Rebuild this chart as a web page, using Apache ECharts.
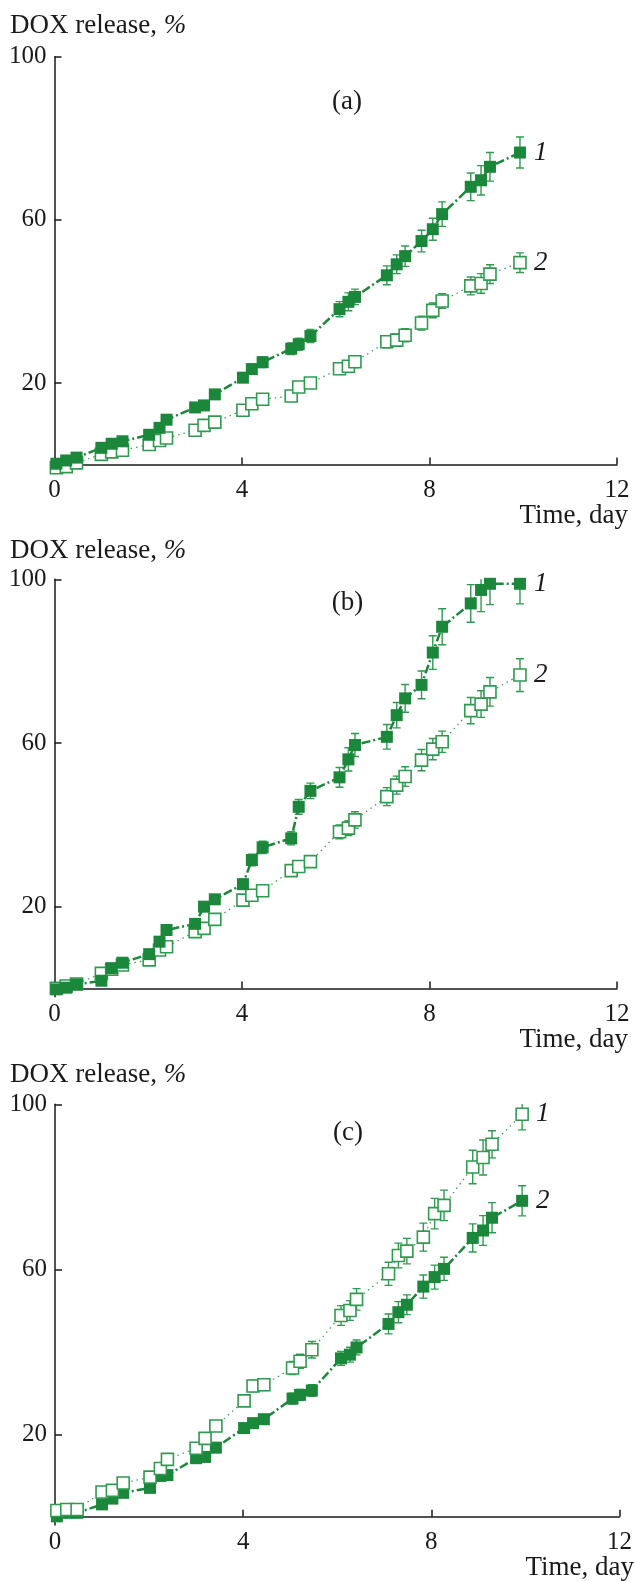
<!DOCTYPE html>
<html>
<head>
<meta charset="utf-8">
<script src="https://cdn.jsdelivr.net/npm/echarts@6/dist/echarts.min.js"></script>
<style>
  html, body { margin: 0; padding: 0; background: #fff; }
  #chart { width: 635px; height: 1581px; }
</style>
</head>
<body>
<div id="chart"></div>
<script>
// sampling times, days (same for all three panels)
var times = [0.04, 0.25, 0.47, 1.0, 1.22, 1.45, 2.02, 2.24, 2.39, 3.0, 3.19, 3.42, 4.02, 4.21, 4.44,
    5.05, 5.21, 5.46, 6.08, 6.27, 6.41, 7.09, 7.3, 7.48, 7.83, 8.07, 8.27, 8.88, 9.1, 9.29, 9.93];

// panel (a)
var a1 = [0.2, 1.0, 1.7, 4.1, 5.1, 5.7, 7.3, 9.0, 11.0, 14.0, 14.5, 17.2, 21.3, 23.4, 25.1,
    28.4, 29.5, 31.5, 38.1, 39.9, 41.1, 46.4, 49.1, 51.1, 54.8, 57.7, 61.4, 68.1, 69.7, 73.0, 76.5];
var a1Err = [0.2, 0.3, 0.3, 0.4, 0.5, 0.5, 0.5, 0.6, 0.7, 0.8, 0.8, 0.9, 1.1, 1.2, 1.3,
    1.4, 1.5, 1.6, 1.85, 2.2, 1.9, 2.3, 2.3, 2.5, 2.65, 2.7, 3.0, 3.4, 3.6, 3.5, 3.8];
var a2 = [-0.8, -0.5, 0.4, 2.5, 3.1, 3.5, 4.9, 5.9, 6.5, 8.4, 9.6, 10.4, 13.3, 14.9, 16.0,
    16.8, 19.0, 20.0, 23.5, 24.1, 25.2, 30.1, 30.5, 31.7, 34.7, 37.8, 40.1, 43.8, 44.4, 46.7, 49.5];
var a2Err = [0.2, 0.2, 0.2, 0.3, 0.3, 0.3, 0.4, 0.4, 0.5, 0.5, 0.6, 0.6, 0.8, 0.9, 0.9,
    1.0, 1.1, 1.1, 1.3, 1.3, 1.4, 1.5, 1.5, 1.6, 1.7, 1.8, 1.8, 2.2, 2.4, 2.3, 2.4];

// panel (b)
var b1 = [-0.2, 0.2, 1.0, 1.9, 4.95, 6.3, 8.4, 11.45, 14.3, 15.8, 20.0, 21.8, 25.5, 31.4, 34.5,
    36.7, 44.4, 48.3, 51.6, 56.0, 59.5, 61.5, 66.8, 70.9, 74.2, 82.1, 88.4, 94.1, 97.4, 98.9, 98.9];
var b1Err = [0.2, 0.2, 0.3, 0.3, 0.4, 0.5, 0.6, 0.7, 0.8, 0.9, 1.0, 1.1, 1.2, 1.4, 1.5,
    1.6, 1.8, 1.9, 2.4, 2.85, 2.8, 3.0, 3.1, 3.4, 3.4, 4.1, 4.4, 4.6, 5.3, 5.1, 4.9];
var b2 = [0.05, 0.6, 1.1, 3.7, 4.7, 5.75, 7.0, 9.4, 10.2, 13.9, 14.7, 16.9, 21.6, 22.8, 23.9,
    28.8, 29.8, 31.0, 38.3, 39.2, 41.2, 46.9, 49.7, 51.8, 55.8, 58.5, 60.3, 67.9, 69.5, 72.5, 76.6];
var b2Err = [0.1, 0.2, 0.2, 0.3, 0.3, 0.4, 0.4, 0.5, 0.5, 0.7, 0.7, 0.8, 1.0, 1.0, 1.1,
    1.3, 1.3, 1.4, 1.7, 1.8, 2.0, 2.2, 2.2, 2.4, 2.6, 2.6, 2.6, 3.2, 3.25, 3.5, 4.0];

// panel (c): curve 1 is the open one here
var c1 = [1.5, 1.75, 1.75, 6.0, 6.4, 8.2, 9.6, 11.7, 13.9, 16.6, 19.0, 22.0, 28.1, 31.7, 32.0,
    36.05, 37.7, 40.5, 48.8, 50.0, 52.7, 58.9, 63.35, 64.4, 67.8, 73.5, 75.5, 84.8, 87.1, 90.3, 97.6];
var c1Err = [0.2, 0.2, 0.2, 0.4, 0.4, 0.5, 0.5, 0.6, 0.7, 0.8, 0.9, 1.0, 1.3, 1.4, 1.4,
    1.6, 1.7, 2.0, 2.4, 2.4, 2.6, 2.8, 3.0, 3.1, 3.4, 3.7, 3.7, 4.05, 4.25, 3.3, 3.8];
var c2 = [0.1, 0.95, 0.95, 3.0, 4.4, 5.8, 7.0, 9.9, 10.1, 14.2, 14.5, 16.75, 21.5, 22.7, 23.65,
    28.65, 29.55, 30.6, 38.4, 39.3, 41.05, 46.75, 49.6, 51.4, 55.8, 58.1, 60.1, 67.6, 69.4, 72.5, 76.6];
var c2Err = [0.1, 0.2, 0.2, 0.3, 0.3, 0.4, 0.4, 0.5, 0.5, 0.7, 0.7, 0.8, 1.0, 1.0, 1.1,
    1.3, 1.3, 1.4, 1.7, 1.8, 1.8, 2.4, 2.55, 2.4, 2.8, 2.9, 2.8, 3.4, 3.6, 3.65, 3.65];

var xTicks = [0, 4, 8, 12];
var yTicks = [20, 60, 100];
var panelNames = ['(a)', '(b)', '(c)'];

var FONT = "'Liberation Serif', 'Times New Roman', serif";
var FILL = '#1b873b';
var OPEN = '#2f9a50';
var INK = '#1a1a1a';

var grids = [
    {left: 54.5, top: 56.7, width: 562.5, height: 416},
    {left: 54.5, top: 579.3, width: 562.5, height: 417.4},
    {left: 55, top: 1104.3, width: 565, height: 420.7}
];

function xAxis(idx) {
    return {
        type: 'value', gridIndex: idx, min: 0, max: 12, interval: 4,
        splitLine: {show: false},
        axisLine: {lineStyle: {color: INK, width: 1.5}},
        axisTick: {inside: true, length: 7, lineStyle: {color: INK, width: 1.5}},
        axisLabel: {margin: 5, fontFamily: FONT, fontSize: 25, color: INK,
            formatter: function (v) { return xTicks.indexOf(v) >= 0 ? v : ''; }}
    };
}

function yAxis(idx) {
    return {
        type: 'value', gridIndex: idx, min: -2, max: 100,
        splitLine: {show: false},
        axisLine: {show: true, lineStyle: {color: INK, width: 1.5}},
        axisTick: {show: true, inside: true, length: 7, customValues: yTicks,
            lineStyle: {color: INK, width: 1.5}},
        axisLabel: {margin: 8, fontFamily: FONT, fontSize: 25, color: INK, customValues: yTicks}
    };
}

function pairs(vals) {
    return times.map(function (t, i) { return [t, vals[i]]; });
}

function curve(idx, vals, filled, name) {
    return {
        type: 'line', xAxisIndex: idx, yAxisIndex: idx, z: 3,
        data: pairs(vals),
        symbol: 'rect', symbolSize: 12, showAllSymbol: true,
        lineStyle: filled ? {color: FILL, width: 2.5, type: [9, 3, 2, 3]}
                          : {color: OPEN, width: 1.2, type: [1.5, 4]},
        itemStyle: filled ? {color: FILL, borderColor: FILL, borderWidth: 0}
                          : {color: '#fff', borderColor: OPEN, borderWidth: 1.6},
        endLabel: {show: true, formatter: name, distance: 14, fontFamily: FONT,
            fontStyle: 'italic', fontSize: 27, color: INK}
    };
}

function errorBars(idx, vals, errs, color) {
    return {
        type: 'custom', xAxisIndex: idx, yAxisIndex: idx, z: 2, clip: true,
        data: times.map(function (t, i) { return [t, vals[i] - errs[i], vals[i] + errs[i]]; }),
        encode: {x: 0, y: [1, 2]},
        renderItem: function (params, api) {
            var lo = api.coord([api.value(0), api.value(1)]);
            var hi = api.coord([api.value(0), api.value(2)]);
            var w = 4;
            var st = {stroke: color, lineWidth: 1.4};
            return {type: 'group', children: [
                {type: 'line', shape: {x1: hi[0], y1: hi[1], x2: lo[0], y2: lo[1]}, style: st},
                {type: 'line', shape: {x1: hi[0] - w, y1: hi[1], x2: hi[0] + w, y2: hi[1]}, style: st},
                {type: 'line', shape: {x1: lo[0] - w, y1: lo[1], x2: lo[0] + w, y2: lo[1]}, style: st}
            ]};
        }
    };
}

function label(text, x, y, align) {
    return {
        type: 'text', x: x, y: y,
        style: {text: text, fontFamily: FONT, fontSize: 27, fill: INK,
            align: align || 'left', verticalAlign: 'middle',
            rich: {i: {fontFamily: FONT, fontSize: 27, fontStyle: 'italic', fill: INK}}}
    };
}

var chart = echarts.init(document.getElementById('chart'));

var option = {
    animation: false,
    backgroundColor: '#fff',
    grid: grids,
    xAxis: [xAxis(0), xAxis(1), xAxis(2)],
    yAxis: [yAxis(0), yAxis(1), yAxis(2)],
    graphic: [
        label('DOX release, {i|%}', 10, 26),
        label('DOX release, {i|%}', 10, 551),
        label('DOX release, {i|%}', 10, 1075),
        label(panelNames[0], 347, 102, 'center'),
        label(panelNames[1], 347.5, 603, 'center'),
        label(panelNames[2], 348, 1133, 'center'),
        label('Time, day', 628, 516, 'right'),
        label('Time, day', 628, 1040, 'right'),
        label('Time, day', 634, 1568, 'right')
    ],
    series: [
        errorBars(0, a2, a2Err, OPEN),
        errorBars(0, a1, a1Err, OPEN),
        curve(0, a2, false, '2'),
        curve(0, a1, true, '1'),

        errorBars(1, b2, b2Err, OPEN),
        errorBars(1, b1, b1Err, OPEN),
        curve(1, b2, false, '2'),
        curve(1, b1, true, '1'),

        errorBars(2, c2, c2Err, OPEN),
        errorBars(2, c1, c1Err, OPEN),
        curve(2, c2, true, '2'),
        curve(2, c1, false, '1')
    ]
};

chart.setOption(option);
</script>
</body>
</html>
